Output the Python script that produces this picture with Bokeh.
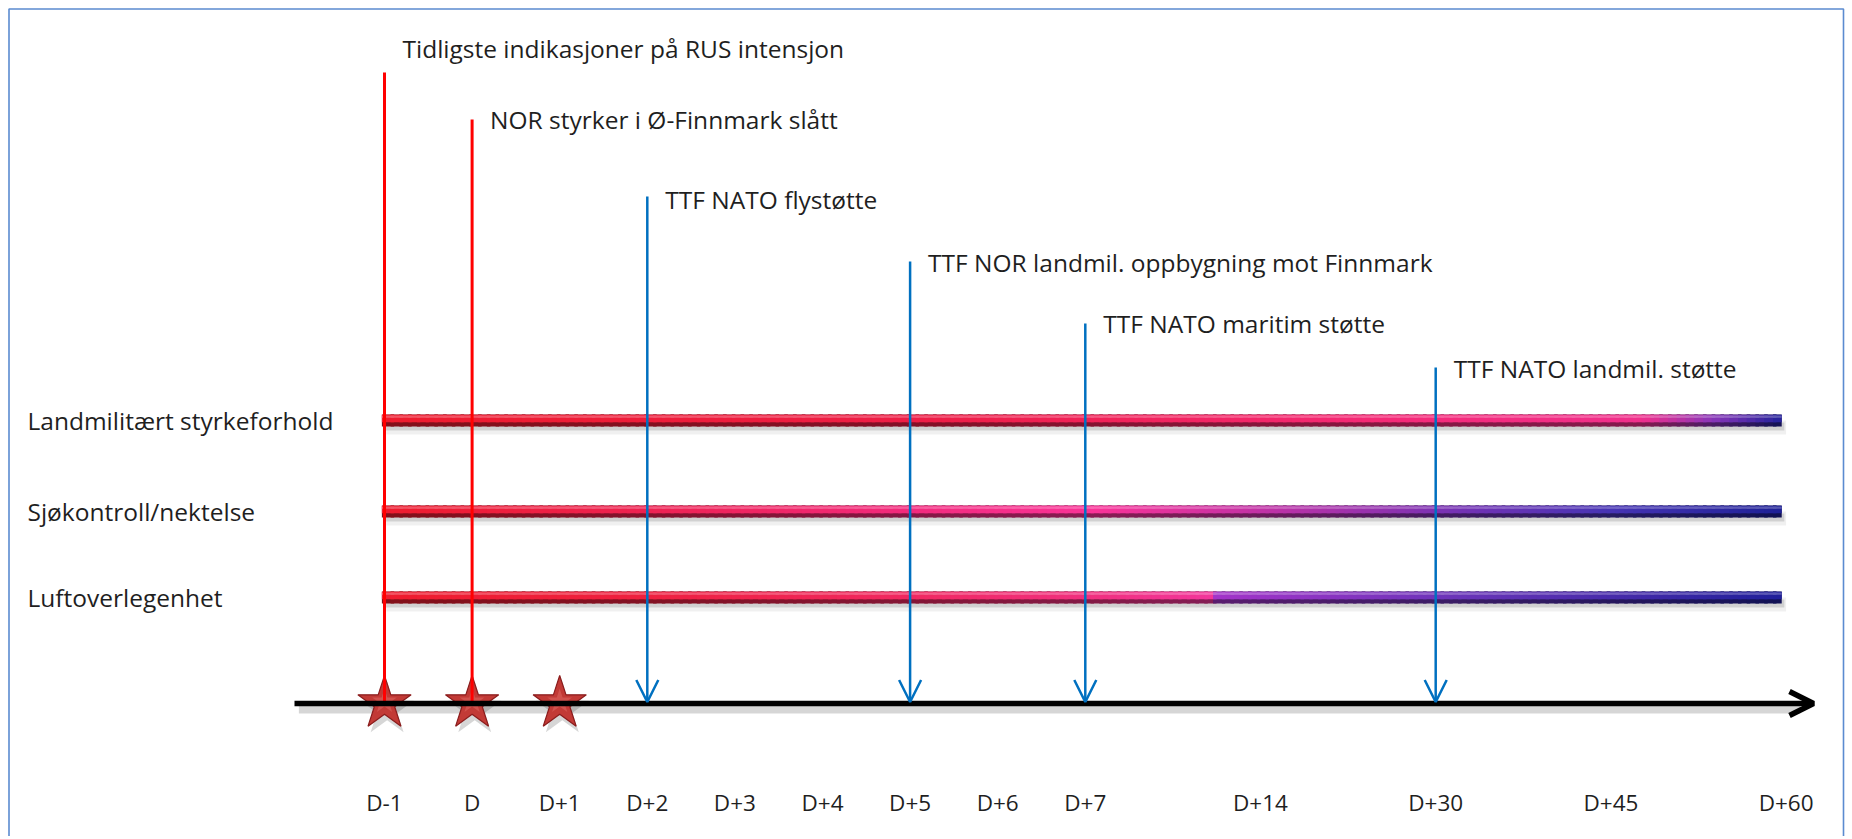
import numpy as np
from bokeh.plotting import figure
from bokeh.models import Range1d, Arrow, OpenHead, ColumnDataSource
from bokeh.embed import file_html
from bokeh.resources import INLINE
from bokeh.core.properties import value

# ---------------- data ----------------
timeline_labels = ["D-1", "D", "D+1", "D+2", "D+3", "D+4", "D+5", "D+6", "D+7",
                   "D+14", "D+30", "D+45", "D+60"]
timeline_slots = [0, 1, 2, 3, 4, 5, 6, 7, 8, 10, 12, 14, 16]

row_names = ["Landmilitært styrkeforhold", "Sjøkontroll/nektelse", "Luftoverlegenhet"]
row_start = ["D-1", "D-1", "D-1"]
row_end = ["D+60", "D+60", "D+60"]

event_labels = ["Tidligste indikasjoner på RUS intensjon",
                "NOR styrker i Ø-Finnmark slått",
                "TTF NATO flystøtte",
                "TTF NOR landmil. oppbygning mot  Finnmark",
                "TTF NATO maritim støtte",
                "TTF NATO landmil. støtte"]
event_days = ["D-1", "D", "D+2", "D+5", "D+7", "D+30"]
event_kind = ["rus", "rus", "ttf", "ttf", "ttf", "ttf"]

star_days = ["D-1", "D", "D+1"]

# ---------------- layout / style ----------------
FONT = value("Open Sans")
FS = "24.5px"
FS_TICK = "22.5px"
TXT = "#1F1F1F"
W, H = 1848, 836
PAGE_OFF = 0
PX_PER_SLOT = 87.6
X0_PAGE = 384          # page x of slot 0
AXIS_PAGE_Y = 703      # page y of the time axis


def sx(page_x):
    return (page_x - X0_PAGE) / PX_PER_SLOT


slot_of = dict(zip(timeline_labels, timeline_slots))

row_level = [283, 192, 106]                 # height above axis (px)
event_top = [631, 584, 507, 442, 380, 336]
label_level = [655, 584, 504, 441, 380, 335]
tick_level = -99

gradients = [
    [(0.0, "#EE1C2E"), (0.40, "#EE1E48"), (0.72, "#F52A78"), (0.90, "#F0308C"),
     (0.95, "#8A36B8"), (1.0, "#22229A")],
    [(0.0, "#EE1C2E"), (0.18, "#EE2250"), (0.37, "#F22A7C"), (0.51, "#FA3398"),
     (0.65, "#B632A8"), (0.77, "#7432B4"), (0.88, "#4634B4"), (1.0, "#1E2096")],
    [(0.0, "#EE1C2E"), (0.19, "#EE2040"), (0.37, "#F02860"), (0.51, "#F03080"),
     (0.591, "#F2369A"), (0.596, "#A234C8"), (0.77, "#6A34B8"), (1.0, "#20209A")],
]


def hex2rgb(h):
    h = h.lstrip("#")
    return np.array([int(h[i:i + 2], 16) for i in (0, 2, 4)], dtype=float)


def rgb2hex(c):
    c = np.clip(np.round(c), 0, 255).astype(int)
    return "#%02x%02x%02x" % tuple(c)


def grad_color(stops, t):
    for (t0, c0), (t1, c1) in zip(stops[:-1], stops[1:]):
        if t <= t1:
            f = 0 if t1 == t0 else (t - t0) / (t1 - t0)
            return hex2rgb(c0) * (1 - f) + hex2rgb(c1) * f
    return hex2rgb(stops[-1][1])


p = figure(width=W, height=H, output_backend="svg", toolbar_location=None,
           x_range=Range1d(sx(PAGE_OFF), sx(PAGE_OFF + W)),
           y_range=Range1d(AXIS_PAGE_Y - (PAGE_OFF + H), AXIS_PAGE_Y - PAGE_OFF),
           min_border=0, outline_line_color=None)
p.axis.visible = False
p.grid.visible = False
p.background_fill_color = "white"
p.border_fill_color = "white"

# frame (left, top, right)
fx0, fx1 = sx(8.5), sx(1843)
ftop = AXIS_PAGE_Y - 8.5
p.line([fx0, fx0, fx1, fx1], [-400, ftop, ftop, -400],
       line_color="#5B8BD0", line_width=1.6)

# ---------------- bars (tubes with gradient) ----------------
N = 160
for i, name in enumerate(row_names):
    a = slot_of[row_start[i]] - 0.03
    b = slot_of[row_end[i]] - 0.05
    edges = np.linspace(a, b, N + 1)
    ts = (np.arange(N) + 0.5) / N
    base = [grad_color(gradients[i], t) for t in ts]
    x0 = edges[:-1]
    x1 = edges[1:] + (b - a) / N * 0.4
    x1[-1] = b
    y = row_level[i]
    # shadow
    p.segment(x0=[a + 0.05], x1=[b + 0.05], y0=[y - 7], y1=[y - 7], line_color="black", line_alpha=0.06, line_width=14)
    p.segment(x0=[a + 0.03], x1=[b + 0.03], y0=[y - 6], y1=[y - 6], line_color="black", line_alpha=0.13, line_width=8)
    dark = [rgb2hex(c * 0.55) for c in base]
    mid = [rgb2hex(c) for c in base]
    light = [rgb2hex(c + (255 - c) * 0.25) for c in base]
    p.segment(x0=x0, x1=x1, y0=y, y1=y, line_color=dark, line_width=12, line_cap="butt")
    p.segment(x0=x0, x1=x1, y0=y + 2, y1=y + 2, line_color=mid, line_width=7.5, line_cap="butt")
    p.segment(x0=x0, x1=x1, y0=y + 3.8, y1=y + 3.8, line_color=light, line_width=2.2, line_cap="butt")

# row labels
p.text(x=[sx(27)] * 3, y=row_level, text=row_names, text_font=FONT, text_font_size=FS,
       text_color=TXT, text_baseline="middle", text_align="left")

# ---------------- time axis ----------------
ax0, ax1 = sx(294), sx(1813)
p.segment(x0=[ax0 + 0.05], x1=[ax1 - 0.15], y0=[-5], y1=[-5], line_color="black", line_alpha=0.16, line_width=10)
p.add_layout(Arrow(end=OpenHead(size=24, line_width=5.5, line_color="black"),
                   x_start=ax0, y_start=0, x_end=ax1, y_end=0,
                   line_width=5.5, line_color="black"))

# stars
st_x = [slot_of[d] for d in star_days]
p.scatter(x=[v + 0.03 for v in st_x], y=[-6] * 3, marker="star", size=56,
          fill_color="black", fill_alpha=0.16, line_color=None)
p.scatter(x=st_x, y=[0] * 3, marker="star", size=56,
          fill_color="#C23A36", line_color="#8A1C1C", line_width=1.2)
p.scatter(x=st_x, y=[2] * 3, marker="star", size=26,
          fill_color="#DA635D", fill_alpha=0.6, line_color=None)

# ---------------- events ----------------
ex = [slot_of[d] for d in event_days]
red_i = [i for i, k in enumerate(event_kind) if k == "rus"]
blue_i = [i for i, k in enumerate(event_kind) if k == "ttf"]
p.segment(x0=[ex[i] for i in red_i], x1=[ex[i] for i in red_i],
          y0=[0] * len(red_i), y1=[event_top[i] for i in red_i],
          line_color="#FF0000", line_width=3)
bsrc = ColumnDataSource(dict(x=[ex[i] for i in blue_i], top=[event_top[i] for i in blue_i],
                             tip=[1.5] * len(blue_i)))
p.add_layout(Arrow(end=OpenHead(size=22, line_width=2.5, line_color="#0070C0"),
                   x_start="x", y_start="top", x_end="x", y_end="tip", source=bsrc,
                   line_width=2.5, line_color="#0070C0"))

p.text(x=ex, y=label_level, text=event_labels, text_font=FONT, text_font_size=FS,
       text_color=TXT, text_baseline="middle", text_align="left", x_offset=18)

# tick labels
p.text(x=timeline_slots, y=[tick_level] * len(timeline_slots), text=timeline_labels,
       text_font=FONT, text_font_size=FS_TICK, text_color=TXT,
       text_baseline="middle", text_align="center")

open("out.html", "w").write(file_html(p, INLINE))
